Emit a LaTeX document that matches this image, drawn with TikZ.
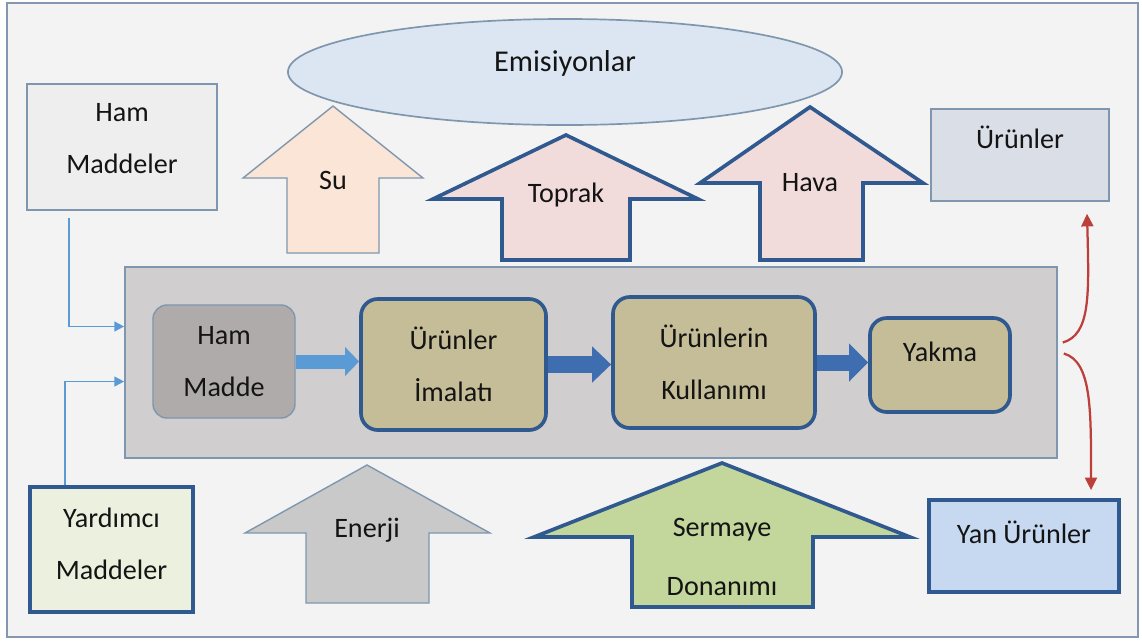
\documentclass[tikz,border=0pt]{standalone}
\usepackage{fontspec}
\setmainfont{Carlito}
\usepackage{tikz}
\usetikzlibrary{arrows.meta,shapes.geometric,positioning,calc}
\definecolor{lcaframe}{HTML}{8497B0}
\definecolor{lcabg}{HTML}{F3F3F3}
\definecolor{lcapale}{HTML}{EEEEEE}
\definecolor{lcanavy}{HTML}{30598F}
\definecolor{lcathin}{HTML}{7F97AE}
\definecolor{lcaemis}{HTML}{DCE6F2}
\definecolor{lcapeach}{HTML}{FBE5D6}
\definecolor{lcapink}{HTML}{F2DCDB}
\definecolor{lcaprod}{HTML}{D9DEE7}
\definecolor{lcagray}{HTML}{D0CECE}
\definecolor{lcaraw}{HTML}{AFABAB}
\definecolor{lcakhaki}{HTML}{C4BD97}
\definecolor{lcaaux}{HTML}{EBF1DE}
\definecolor{lcaenergy}{HTML}{C9C9C9}
\definecolor{lcacapital}{HTML}{C3D69B}
\definecolor{lcabyprod}{HTML}{C6D9F1}
\definecolor{lcared}{HTML}{BD3F3C}
\definecolor{lcafeed}{HTML}{5B9BD5}
\definecolor{lcaflow}{HTML}{3E6DB0}
\definecolor{lcatext}{HTML}{141414}

\begin{document}
\begin{tikzpicture}[x=0.025cm, y=-0.025cm,
    every node/.style={font=\fontsize{20}{37}\selectfont, text=lcatext, align=center},
    thinbox/.style={draw=lcathin, line width=1pt},
    thickbox/.style={draw=lcanavy, line width=2.6pt},
    stage/.style={thickbox, rounded corners=12pt, fill=lcakhaki},
    feed/.style={draw=lcafeed, line width=1.2pt, -{Triangle[length=7pt,width=7pt]}},
    byflow/.style={draw=lcared, line width=1.6pt, -{Triangle[length=9pt,width=8.5pt]}}]
    \useasboundingbox (0,0) rectangle (1142,641);

    % Page and frame
    \fill[white] (0,0) rectangle (1142,641);
    \draw[fill=lcabg, draw=lcaframe, line width=1.4pt] (7,3) rectangle (1138,637);

    % Inputs and outputs
    \node[thinbox, fill=lcapale, minimum width=4.75cm, minimum height=3.15cm,
          label={[yshift=0.2cm]center:Ham\\Maddeler}] (hmad) at (122,147) {};
    \node[thinbox, fill=lcaprod, minimum width=4.45cm, minimum height=2.3cm,
          label={[yshift=0.45cm]center:Ürünler}] (urun) at (1020,155) {};
    \node[thickbox, fill=lcaaux, minimum width=4.075cm, minimum height=3.125cm,
          label={[yshift=0.15cm]center:Yardımcı\\Maddeler}] (yard) at (111.5,549.5) {};
    \node[thickbox, fill=lcabyprod, minimum width=4.75cm, minimum height=2.3cm,
          label={[yshift=0.35cm]center:Yan Ürünler}] (yan) at (1024,546) {};

    % Emissions
    \node[ellipse, draw=lcathin, line width=1.2pt, fill=lcaemis, minimum width=13.85cm, minimum height=2.65cm,
          label={[yshift=0.22cm, font=\fontsize{21.5}{25}\selectfont]center:Emisiyonlar}] (emis) at (565,72) {};

    % Su, Toprak, Hava
    \draw[thinbox, fill=lcapeach] (333,106) -- (423,178) -- (379,178) -- (379,253) -- (287,253) -- (287,178) -- (243,178) -- cycle;
    \node (su) at (333,180) {Su};
    \draw[thickbox, fill=lcapink] (566,135) -- (698,199) -- (630,199) -- (630,260) -- (502,260) -- (502,199) -- (433,199) -- cycle;
    \node (toprak) at (566,195) {Toprak};
    \draw[thickbox, fill=lcapink] (810,107) -- (923,183) -- (863,183) -- (863,260) -- (760,260) -- (760,183) -- (700,183) -- cycle;
    \node (hava) at (810,183) {Hava};

    % Life cycle
    \node[thinbox, fill=lcagray, minimum width=23.3cm, minimum height=4.775cm] (gbox) at (591,362.5) {};
    \node[thinbox, fill=lcaraw, rounded corners=10pt, minimum width=3.55cm, minimum height=2.825cm] (hm) at (224,361.5) {Ham\\Madde};
    \node[stage, minimum width=4.625cm, minimum height=3.275cm] (im) at (453.5,364.5) {Ürünler\\İmalatı};
    \node[stage, minimum width=5.05cm, minimum height=3.275cm] (ku) at (714,362.5) {Ürünlerin\\Kullanımı};
    \node[stage, minimum width=3.5cm, minimum height=2.35cm,
          label={[yshift=0.325cm]center:Yakma}] (yk) at (940,365) {};

    \draw[line width=0.35cm, draw=lcafeed, -{Triangle[length=0.35cm,width=0.7cm]}] (hm.east) -- (hm.east -| im.west);
    \draw[line width=0.425cm, draw=lcaflow, -{Triangle[length=0.475cm,width=0.875cm]}] (im.east) -- (im.east -| ku.west);
    \draw[line width=0.4cm, draw=lcaflow, -{Triangle[length=0.475cm,width=0.925cm]}] (ku.east) -- (ku.east -| yk.west);

    % Feeds into the cycle
    \coordinate (hmadout) at ([xshift=1.075cm, yshift=-0.175cm]hmad.south west);
    \coordinate (yardout) at ([xshift=0.925cm]yard.north west);
    \draw[feed] (hmadout) |- ([yshift=0.9cm]gbox.west);
    \draw[feed] (yardout) |- ([yshift=-0.475cm]gbox.west);

    % Energie, Sermaye
    \draw[thinbox, fill=lcaenergy] (367,465) -- (490,533) -- (429,533) -- (429,603) -- (306,603) -- (306,533) -- (245,533) -- cycle;
    \node (enerji) at (367,530) {Enerji};
    \draw[thickbox, fill=lcacapital] (722,463) -- (910,537) -- (813,537) -- (813,607) -- (632,607) -- (632,537) -- (534,537) -- cycle;
    \node[font=\fontsize{20}{42}\selectfont] (sermaye) at (722,557) {Sermaye\\Donanımı};

    % Outputs of the cycle
    \coordinate (brup) at ([shift={(0.125cm,0.5cm)}]gbox.east);
    \coordinate (brdown) at ([shift={(0.15cm,0.225cm)}]gbox.east);
    \draw[byflow] (brup) .. controls +(0.7cm,0.2cm) and +(0.05cm,-2cm) .. ([shift={(1.675cm,-0.3cm)}]urun.south);
    \draw[byflow] (brdown) .. controls +(0.7cm,-0.2cm) and +(0cm,2cm) .. ([shift={(1.675cm,0.2cm)}]yan.north);
\end{tikzpicture}
\end{document}
